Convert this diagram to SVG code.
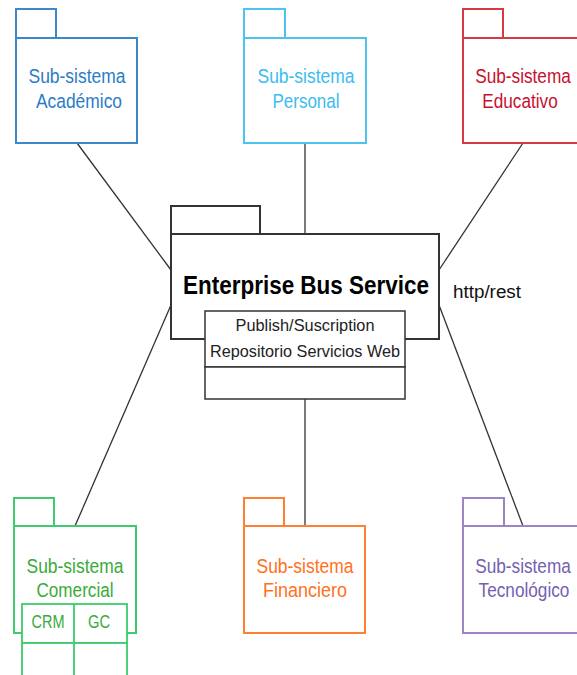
<svg xmlns="http://www.w3.org/2000/svg" width="577" height="675" viewBox="0 0 577 675">
<style>
.pk{fill:#fff;stroke-width:2}
.t{font-family:"Liberation Sans",Arial,sans-serif;font-size:20.5px;text-anchor:middle}
.s{font-family:"Liberation Sans",Arial,sans-serif;font-size:17px;text-anchor:middle;fill:#222}
.c{stroke:#333;stroke-width:1.3;fill:none}
</style>
<rect width="577" height="675" fill="#fff"/>
<g id="connectors">
<line class="c" x1="77" y1="143" x2="171" y2="270"/>
<line class="c" x1="305" y1="143" x2="305" y2="234"/>
<line class="c" x1="523" y1="143" x2="439" y2="270"/>
<line class="c" x1="171" y1="305" x2="75" y2="526"/>
<line class="c" x1="305" y1="399" x2="305" y2="526"/>
<line class="c" x1="439" y1="305" x2="523" y2="526"/>
</g>
<g id="academico" stroke="#3b87c9">
<rect class="pk" x="16" y="9" width="40" height="29"/>
<rect class="pk" x="16" y="38" width="121" height="105"/>
<text class="t" x="77" y="83" fill="#2a7cc8" stroke="none" textLength="97" lengthAdjust="spacingAndGlyphs">Sub-sistema</text>
<text class="t" x="79" y="108" fill="#2a7cc8" stroke="none" textLength="86" lengthAdjust="spacingAndGlyphs">Académico</text>
</g>
<g id="personal" stroke="#4dc4f0">
<rect class="pk" x="244" y="9" width="41" height="29"/>
<rect class="pk" x="244" y="38" width="122" height="105"/>
<text class="t" x="306" y="83" fill="#3bbcf0" stroke="none" textLength="97" lengthAdjust="spacingAndGlyphs">Sub-sistema</text>
<text class="t" x="306" y="108" fill="#3bbcf0" stroke="none" textLength="67" lengthAdjust="spacingAndGlyphs">Personal</text>
</g>
<g id="educativo" stroke="#d33a44">
<rect class="pk" x="463" y="9" width="40" height="29"/>
<rect class="pk" x="463" y="38" width="125" height="105"/>
<text class="t" transform="translate(523,83) scale(0.84,1)" x="0" y="0" fill="#c8102e" stroke="none">Sub-sistema</text>
<text class="t" transform="translate(520,108) scale(0.84,1)" x="0" y="0" fill="#c8102e" stroke="none">Educativo</text>
</g>
<g id="ebs" stroke="#333">
<rect class="pk" x="171" y="206" width="89" height="28"/>
<rect class="pk" x="171" y="234" width="268" height="105"/>
<text x="306" y="294" font-family="Liberation Sans,Arial,sans-serif" font-size="25" font-weight="bold" text-anchor="middle" fill="#000" stroke="none" textLength="246" lengthAdjust="spacingAndGlyphs">Enterprise Bus Service</text>
<rect x="205" y="311" width="200" height="56" fill="#fff" stroke-width="1.5"/>
<rect x="205" y="367" width="200" height="32" fill="#fff" stroke-width="1.5"/>
<text class="s" x="305" y="331" stroke="none" textLength="139" lengthAdjust="spacingAndGlyphs">Publish/Suscription</text>
<text class="s" x="305" y="357" stroke="none" textLength="190" lengthAdjust="spacingAndGlyphs">Repositorio Servicios Web</text>
</g>
<text id="http" x="453" y="298" font-family="Liberation Sans,Arial,sans-serif" font-size="18" fill="#111" textLength="68" lengthAdjust="spacingAndGlyphs">http/rest</text>
<g id="comercial" stroke="#3ccc6c">
<rect class="pk" x="14" y="498" width="40" height="28"/>
<rect class="pk" x="14" y="526" width="122" height="107"/>
<text class="t" x="75" y="573" fill="#3aaa3a" stroke="none" textLength="97" lengthAdjust="spacingAndGlyphs">Sub-sistema</text>
<text class="t" x="75" y="597" fill="#3aaa3a" stroke="none" textLength="77" lengthAdjust="spacingAndGlyphs">Comercial</text>
<rect x="22" y="604" width="105" height="39" fill="#fff" stroke-width="1.8"/>
<rect x="22" y="643" width="105" height="40" fill="#fff" stroke-width="1.8"/>
<line x1="74" y1="604" x2="74" y2="680" stroke-width="1.8"/>
<text x="48" y="628" font-family="Liberation Sans,Arial,sans-serif" font-size="18" text-anchor="middle" fill="#3aaa3a" stroke="none" textLength="33" lengthAdjust="spacingAndGlyphs">CRM</text>
<text x="99" y="628" font-family="Liberation Sans,Arial,sans-serif" font-size="18" text-anchor="middle" fill="#3aaa3a" stroke="none" textLength="22" lengthAdjust="spacingAndGlyphs">GC</text>
</g>
<g id="financiero" stroke="#ff8030">
<rect class="pk" x="244" y="498" width="40" height="28"/>
<rect class="pk" x="244" y="526" width="121" height="107"/>
<text class="t" x="305" y="573" fill="#ff7020" stroke="none" textLength="97" lengthAdjust="spacingAndGlyphs">Sub-sistema</text>
<text class="t" x="305" y="597" fill="#ff7020" stroke="none" textLength="84" lengthAdjust="spacingAndGlyphs">Financiero</text>
</g>
<g id="tecnologico" stroke="#9b85c4">
<rect class="pk" x="463" y="498" width="41" height="28"/>
<rect class="pk" x="463" y="526" width="125" height="107"/>
<text class="t" transform="translate(523,573) scale(0.84,1)" x="0" y="0" fill="#7560b0" stroke="none">Sub-sistema</text>
<text class="t" transform="translate(524,597) scale(0.84,1)" x="0" y="0" fill="#7560b0" stroke="none">Tecnológico</text>
</g>
</svg>
